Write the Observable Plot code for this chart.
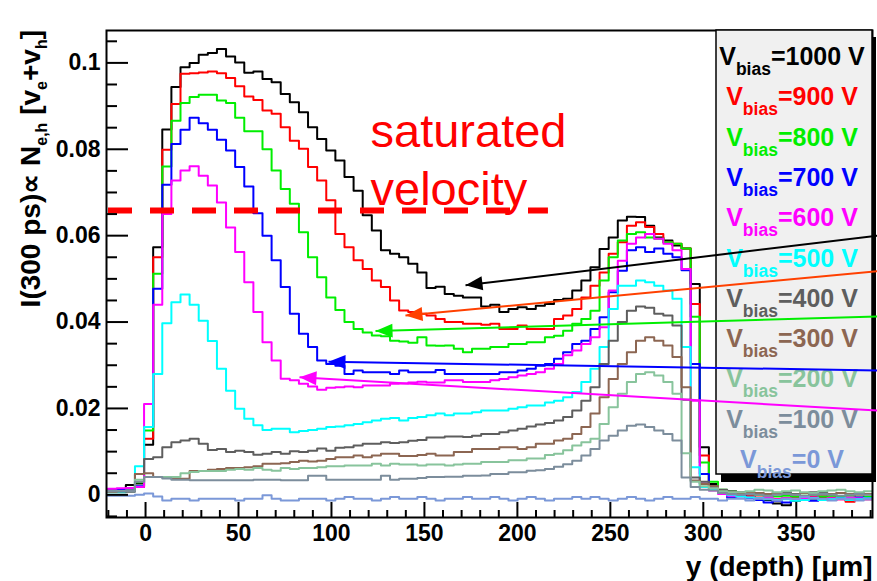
<!DOCTYPE html>
<html><head><meta charset="utf-8">
<script src="https://cdn.jsdelivr.net/npm/d3@7"></script>
<script src="https://cdn.jsdelivr.net/npm/@observablehq/plot@0.6"></script>
<style>
body{margin:0;background:#fff;}
#chart{position:relative;width:877px;height:581px;}
</style></head><body><div id="chart"></div>
<script>
// ---- histogram binning (µm) ----
const binStart = -20.4, binWidth = 4.9;

// ---- series (one value per bin, 84 bins) ----
const v1000 = [0.0008,0.0010,0.0023,0.0026,0.0116,0.0573,
 0.0846,0.0944,0.0990,0.1000,0.1019,0.1023,0.1032,0.1015,0.1001,0.0977,0.0980,0.0963,
 0.0955,0.0928,0.0909,0.0886,0.0851,0.0824,0.0797,0.0774,0.0736,0.0704,0.0647,0.0612,0.0566,0.0558,
 0.0550,0.0535,0.0515,0.0479,0.0482,0.0465,0.0461,
 0.0457,0.0457,0.0436,0.0440,0.0423,0.0430,0.0434,0.0430,0.0438,0.0442,0.0451,0.0454,
 0.0473,0.0496,0.0527,0.0569,0.0596,0.0635,0.0644,0.0643,0.0623,0.0596,0.0589,0.0577,0.0570,0.0488,0.0110,
 0.0025,0.0008,0.0005,0.0002,-0.0004,-0.0008,-0.0012,-0.0020,-0.0024,-0.0014,-0.0008,-0.0010,-0.0006,-0.0010,-0.0008,-0.0012,-0.0009,-0.0010];
const v900 = [0.0010,0.0012,0.0016,0.0018,0.0130,0.0550,
 0.0799,0.0905,0.0975,0.0976,0.0978,0.0980,0.0976,0.0965,0.0946,0.0922,0.0914,0.0890,
 0.0882,0.0851,0.0820,0.0801,0.0759,0.0728,0.0682,0.0604,0.0573,0.0543,0.0523,0.0496,0.0481,0.0450,
 0.0427,0.0423,0.0419,0.0415,0.0407,0.0400,0.0400,
 0.0396,0.0396,0.0394,0.0396,0.0384,0.0384,0.0392,0.0384,0.0384,0.0384,0.0407,0.0415,
 0.0430,0.0457,0.0484,0.0515,0.0558,0.0585,0.0623,0.0631,0.0620,0.0604,0.0585,0.0581,0.0570,0.0442,0.0091,
 0.0020,0.0006,0.0003,0.0000,-0.0004,-0.0006,-0.0008,-0.0010,-0.0008,-0.0006,-0.0010,-0.0004,-0.0008,-0.0006,-0.0010,-0.0016,-0.0008,-0.0006];
const v800 = [0.0010,0.0012,0.0016,0.0029,0.0149,0.0512,
 0.0760,0.0866,0.0907,0.0921,0.0926,0.0926,0.0913,0.0907,0.0873,0.0842,0.0842,0.0800,
 0.0751,0.0708,0.0674,0.0608,0.0550,0.0504,0.0457,0.0428,0.0400,0.0384,0.0376,0.0369,0.0367,0.0357,
 0.0355,0.0352,0.0365,0.0346,0.0345,0.0346,0.0338,
 0.0330,0.0338,0.0338,0.0342,0.0342,0.0349,0.0349,0.0353,0.0353,0.0365,0.0368,0.0380,
 0.0396,0.0407,0.0426,0.0496,0.0550,0.0589,0.0604,0.0608,0.0596,0.0593,0.0585,0.0581,0.0570,0.0412,0.0075,
 0.0030,0.0012,0.0008,0.0004,0.0002,0.0000,-0.0002,-0.0004,-0.0002,-0.0004,-0.0002,0.0000,-0.0004,-0.0002,-0.0004,-0.0002,-0.0006,-0.0004];
const v700 = [0.0010,0.0011,0.0012,0.0020,0.0157,0.0477,
 0.0718,0.0812,0.0845,0.0873,0.0860,0.0845,0.0822,0.0797,0.0759,0.0714,0.0652,0.0600,
 0.0543,0.0481,0.0419,0.0373,0.0342,0.0311,0.0303,0.0299,0.0280,0.0288,0.0284,0.0284,0.0284,0.0280,
 0.0288,0.0284,0.0284,0.0284,0.0289,0.0280,0.0280,
 0.0280,0.0280,0.0280,0.0280,0.0284,0.0284,0.0288,0.0292,0.0299,0.0303,0.0315,0.0330,
 0.0349,0.0357,0.0384,0.0411,0.0469,0.0519,0.0566,0.0573,0.0562,0.0570,0.0558,0.0550,0.0520,0.0303,0.0048,
 0.0015,0.0004,-0.0006,-0.0002,-0.0008,-0.0012,-0.0018,-0.0014,-0.0018,-0.0012,-0.0008,-0.0014,-0.0010,-0.0012,-0.0008,-0.0010,-0.0006,-0.0008];
const v600 = [0.0014,0.0015,0.0016,0.0018,0.0210,0.0440,
 0.0650,0.0728,0.0751,0.0761,0.0739,0.0716,0.0677,0.0619,0.0562,0.0492,0.0423,0.0353,
 0.0311,0.0269,0.0265,0.0257,0.0251,0.0243,0.0248,0.0249,0.0251,0.0249,0.0253,0.0253,0.0253,0.0257,
 0.0258,0.0260,0.0262,0.0260,0.0260,0.0265,0.0265,
 0.0261,0.0261,0.0261,0.0265,0.0268,0.0272,0.0276,0.0280,0.0284,0.0292,0.0303,0.0323,
 0.0334,0.0349,0.0365,0.0388,0.0473,0.0542,0.0581,0.0596,0.0604,0.0593,0.0581,0.0566,0.0523,0.0218,0.0026,
 0.0010,0.0002,-0.0002,-0.0004,-0.0006,-0.0008,-0.0006,-0.0010,-0.0008,-0.0012,-0.0008,-0.0006,-0.0010,-0.0008,-0.0010,-0.0006,-0.0008,-0.0010];
const v500 = [0.0006,0.0006,0.0008,0.0066,0.0157,0.0280,
 0.0397,0.0446,0.0464,0.0440,0.0403,0.0356,0.0292,0.0241,0.0199,0.0176,0.0161,0.0150,
 0.0153,0.0153,0.0145,0.0148,0.0150,0.0153,0.0157,0.0158,0.0161,0.0164,0.0168,0.0172,0.0176,0.0178,
 0.0172,0.0178,0.0180,0.0184,0.0188,0.0184,0.0188,
 0.0188,0.0191,0.0195,0.0195,0.0195,0.0199,0.0203,0.0207,0.0207,0.0214,0.0218,0.0226,
 0.0238,0.0261,0.0292,0.0342,0.0430,0.0484,0.0484,0.0496,0.0492,0.0484,0.0473,0.0454,0.0342,0.0064,0.0018,
 0.0012,0.0004,0.0000,-0.0004,-0.0006,-0.0008,-0.0010,-0.0012,-0.0010,-0.0014,-0.0012,-0.0008,-0.0012,-0.0010,-0.0008,-0.0012,-0.0010,-0.0008];
const v400 = [0.0007,0.0008,0.0007,0.0048,0.0083,0.0087,
 0.0110,0.0122,0.0126,0.0130,0.0118,0.0104,0.0106,0.0099,0.0102,0.0099,0.0093,0.0095,
 0.0099,0.0095,0.0101,0.0099,0.0102,0.0107,0.0102,0.0109,0.0110,0.0114,0.0118,0.0118,0.0122,0.0120,
 0.0122,0.0125,0.0127,0.0133,0.0133,0.0135,0.0135,
 0.0134,0.0137,0.0141,0.0141,0.0145,0.0149,0.0153,0.0158,0.0163,0.0166,0.0172,0.0180,
 0.0195,0.0218,0.0249,0.0303,0.0357,0.0400,0.0426,0.0436,0.0433,0.0419,0.0415,0.0392,0.0220,0.0040,0.0030,
 0.0020,0.0012,0.0008,0.0006,0.0004,0.0004,0.0002,0.0004,0.0006,0.0002,0.0004,0.0006,0.0004,0.0002,0.0004,0.0002,0.0004,0.0002];
const v300 = [0.0007,0.0008,0.0010,0.0048,0.0050,0.0041,
 0.0040,0.0037,0.0037,0.0055,0.0055,0.0058,0.0060,0.0062,0.0062,0.0064,0.0066,0.0072,
 0.0072,0.0073,0.0076,0.0079,0.0077,0.0079,0.0083,0.0087,0.0087,0.0091,0.0087,0.0091,0.0095,0.0095,
 0.0090,0.0090,0.0092,0.0095,0.0091,0.0091,0.0099,
 0.0099,0.0106,0.0106,0.0106,0.0110,0.0110,0.0106,0.0110,0.0118,0.0118,0.0126,0.0130,
 0.0141,0.0157,0.0188,0.0226,0.0268,0.0303,0.0330,0.0357,0.0365,0.0357,0.0346,0.0319,0.0249,0.0033,0.0025,
 0.0020,0.0008,0.0006,0.0004,0.0006,0.0004,0.0002,0.0004,0.0002,0.0000,0.0004,0.0002,0.0000,0.0002,0.0004,0.0002,0.0000,0.0002];
const v200 = [0.0008,0.0009,0.0010,0.0035,0.0041,0.0041,
 0.0041,0.0041,0.0050,0.0053,0.0055,0.0055,0.0055,0.0058,0.0060,0.0058,0.0062,0.0058,
 0.0056,0.0062,0.0060,0.0062,0.0062,0.0064,0.0066,0.0066,0.0068,0.0068,0.0068,0.0072,0.0068,0.0072,
 0.0070,0.0070,0.0068,0.0070,0.0070,0.0068,0.0070,
 0.0072,0.0072,0.0076,0.0076,0.0076,0.0080,0.0080,0.0084,0.0084,0.0092,0.0095,0.0103,
 0.0114,0.0122,0.0130,0.0164,0.0203,0.0234,0.0261,0.0280,0.0284,0.0276,0.0261,0.0234,0.0096,0.0030,0.0020,
 0.0015,0.0008,0.0006,0.0006,0.0008,0.0012,0.0010,0.0006,0.0008,0.0010,0.0006,0.0004,0.0008,0.0010,0.0012,0.0008,0.0006,0.0008];
const v100 = [0.0008,0.0008,0.0009,0.0030,0.0041,0.0041,
 0.0038,0.0035,0.0035,0.0034,0.0034,0.0034,0.0034,0.0034,0.0034,0.0034,0.0035,0.0035,
 0.0035,0.0034,0.0034,0.0034,0.0044,0.0044,0.0035,0.0035,0.0035,0.0035,0.0035,0.0035,0.0044,0.0035,
 0.0037,0.0037,0.0039,0.0041,0.0041,0.0042,0.0042,
 0.0044,0.0044,0.0045,0.0048,0.0048,0.0052,0.0052,0.0056,0.0057,0.0060,0.0065,0.0071,
 0.0079,0.0091,0.0106,0.0126,0.0137,0.0149,0.0160,0.0163,0.0157,0.0149,0.0141,0.0126,0.0040,0.0018,0.0012,
 0.0010,0.0004,0.0002,0.0000,0.0002,0.0000,-0.0002,0.0000,0.0002,0.0000,-0.0002,0.0000,0.0002,0.0000,-0.0002,0.0000,0.0002,0.0000];
const v0 = [-0.0002,-0.0002,-0.0002,0.0000,0.0003,-0.0004,
 -0.0013,-0.0009,-0.0009,-0.0013,-0.0009,-0.0009,-0.0009,-0.0009,-0.0013,-0.0009,-0.0009,-0.0001,
 -0.0009,-0.0013,-0.0013,-0.0009,-0.0009,-0.0009,-0.0013,-0.0009,-0.0005,-0.0009,-0.0009,-0.0013,-0.0009,-0.0005,
 -0.0009,-0.0009,-0.0005,-0.0009,-0.0013,-0.0009,-0.0009,
 -0.0005,-0.0009,-0.0009,-0.0005,-0.0009,-0.0013,-0.0009,-0.0005,-0.0009,-0.0013,-0.0009,-0.0009,
 -0.0005,-0.0009,-0.0005,-0.0009,-0.0013,-0.0009,-0.0005,-0.0009,-0.0013,-0.0009,-0.0005,-0.0009,-0.0009,-0.0005,-0.0009,
 -0.0009,-0.0013,-0.0009,-0.0009,-0.0013,-0.0009,-0.0009,-0.0013,-0.0009,-0.0009,-0.0005,-0.0009,-0.0009,-0.0013,-0.0009,-0.0009,-0.0013,-0.0009];

const biasLabels = ["1000","900","800","700","600","500","400","300","200","100","0"];
const seriesColors = ["#000000","#ff0000","#00ee00","#0000ff","#ff00ff","#00ffff","#5e5e5e","#8c6652","#88c49c","#7c8d9c","#7b98d8"];
const seriesValues = [v1000,v900,v800,v700,v600,v500,v400,v300,v200,v100,v0];

// ---- axes ----
const yTicks = [0,0.02,0.04,0.06,0.08,0.1];
const yTickLabels = ["0","0.02","0.04","0.06","0.08","0.1"];
const xTicks = [0,50,100,150,200,250,300,350];
const xTickLabels = ["0","50","100","150","200","250","300","350"];
const xTitle = "y (depth) [\u03BCm]";

// ---- annotations ----
const satLevel = 0.0658, satX1 = -21, satX2 = 216.7;
const satText = [{t:"saturated", x:121, y:0.0806},{t:"velocity", x:121, y:0.0672}];
const arrowX1 = [393.7,393.7,393.7,393.7,393.7];
const arrowY1 = [0.0600,0.0518,0.0413,0.0288,0.0195];
const arrowX2 = [172.1,139.8,123.7,98.4,82.8];
const arrowY2 = [0.0485,0.0415,0.0379,0.0308,0.0272];
const arrowColors = ["#000000","#ff4000","#00ee00","#0000ff","#ff00ff"];

// ---- layout ----
const W = 877, H = 581, mL = 106, mR = 5, mT = 30, mB = 64;
const xDomain = [-21, 391], yDomain = [-0.00525, 0.1075];
const plotW = W - mL - mR, plotH = H - mT - mB;
const font = "'Liberation Sans', Arial, Helvetica, sans-serif";

const yMinor = d3.range(-0.005, 0.1076, 0.005).filter(t => !yTicks.some(m => Math.abs(m - t) < 1e-9));
const xMinor = d3.range(-20, 391, 10).filter(t => t % 50 !== 0);

function stepRows(values) {
  const rows = [];
  values.forEach((v, i) => {
    const x0 = binStart + i * binWidth;
    rows.push({x: x0, y: v}, {x: x0 + binWidth, y: v});
  });
  return rows;
}

const common = {
  width: W, height: H, marginLeft: mL, marginRight: mR, marginTop: mT, marginBottom: mB,
  x: {domain: xDomain, axis: null}, y: {domain: yDomain, axis: null},
  style: {fontFamily: font, background: "white", overflow: "visible"}
};

const base = Plot.plot({...common, marks: [Plot.frame()]});
const sx = base.scale("x"), sy = base.scale("y");
const arrows = arrowX1.map((x1, i) => {
  const ang = Math.atan2(sy.apply(arrowY2[i]) - sy.apply(arrowY1[i]), sx.apply(arrowX2[i]) - sx.apply(x1)) * 180 / Math.PI;
  return {x1, y1: arrowY1[i], x2: arrowX2[i], y2: arrowY2[i], c: arrowColors[i], ang};
});
const headSymbol = {draw(ctx) { ctx.moveTo(0, 0); ctx.lineTo(-17, -7); ctx.lineTo(-17, 7); ctx.closePath(); }};

const lineMarks = seriesValues.map((vals, k) =>
  Plot.line(stepRows(vals), {x: "x", y: "y", stroke: seriesColors[k], strokeWidth: 2, clip: true}));

const svg = Plot.plot({
  ...common,
  marks: [
    ...lineMarks,
    Plot.ruleY([satLevel], {x1: satX1, x2: satX2, stroke: "#ff0000", strokeWidth: 6, strokeDasharray: "24 18", strokeDashoffset: -2}),
    Plot.text(satText, {x: "x", y: "y", text: "t", fill: "#ff0000", fontSize: 47, textAnchor: "start", lineAnchor: "bottom"}),
    Plot.frame({stroke: "#000", strokeWidth: 2}),
    Plot.tickY(yTicks, {y: d => d, insetRight: plotW - 22, stroke: "#000", strokeWidth: 2}),
    Plot.tickY(yMinor, {y: d => d, insetRight: plotW - 11, stroke: "#000", strokeWidth: 2}),
    Plot.tickX(xTicks, {x: d => d, insetTop: plotH - 15, stroke: "#000", strokeWidth: 2}),
    Plot.tickX(xMinor, {x: d => d, insetTop: plotH - 7, stroke: "#000", strokeWidth: 2}),
    Plot.text(yTicks, {frameAnchor: "left", y: d => d, text: (d, i) => yTickLabels[i], textAnchor: "end", dx: -6, fontSize: 23, fontWeight: "bold", fill: "#000"}),
    Plot.text(xTicks, {frameAnchor: "bottom", x: d => d, text: (d, i) => xTickLabels[i], lineAnchor: "top", dy: 7, fontSize: 23, fontWeight: "bold", fill: "#000"}),
    Plot.text([xTitle], {frameAnchor: "bottom-right", text: d => d, textAnchor: "end", lineAnchor: "bottom", dy: 58, fontSize: 28, fontWeight: "bold", fill: "#000"}),
    Plot.link(arrows, {x1: "x1", y1: "y1", x2: "x2", y2: "y2", stroke: "c", strokeWidth: 2}),
    Plot.dot(arrows, {x: "x2", y: "y2", symbol: headSymbol, rotate: "ang", fill: "c", stroke: "none", r: 5})
  ]
});

// legend box (drawn under the arrows)
const lg = d3.select(svg).insert("g", 'g[aria-label="link"]');
lg.append("rect").attr("x", 721).attr("y", 37).attr("width", 155).attr("height", 445).attr("fill", "#000");
lg.append("rect").attr("x", 716).attr("y", 30).attr("width", 156).attr("height", 444)
  .attr("fill", "#f0f0f0").attr("stroke", "#000").attr("stroke-width", 1.5);
biasLabels.forEach((b, i) => {
  const t = lg.append("text").attr("x", 792).attr("y", 65 + 40.3 * i).attr("text-anchor", "middle")
    .attr("fill", seriesColors[i]).attr("font-size", 25).attr("font-weight", "bold").attr("font-family", font);
  t.append("tspan").text("V");
  t.append("tspan").attr("font-size", 17.5).attr("dy", 10).text("bias");
  t.append("tspan").attr("dy", -10).text("=" + b + " V");
});

// y-axis title with subscripts
const yt = d3.select(svg).append("text").attr("transform", "translate(40,30) rotate(-90)")
  .attr("text-anchor", "end").attr("font-size", 28).attr("font-weight", "bold").attr("font-family", font)
  .attr("fill", "#000");
yt.append("tspan").text("I(300 ps)\u221D N");
yt.append("tspan").attr("font-size", 16).attr("dy", 7).text("e,h");
yt.append("tspan").attr("dy", -7).text(" [v");
yt.append("tspan").attr("font-size", 16).attr("dy", 7).text("e");
yt.append("tspan").attr("dy", -7).text("+v");
yt.append("tspan").attr("font-size", 16).attr("dy", 7).text("h");
yt.append("tspan").attr("dy", -7).text("]");

document.getElementById("chart").appendChild(svg);
</script></body></html>
